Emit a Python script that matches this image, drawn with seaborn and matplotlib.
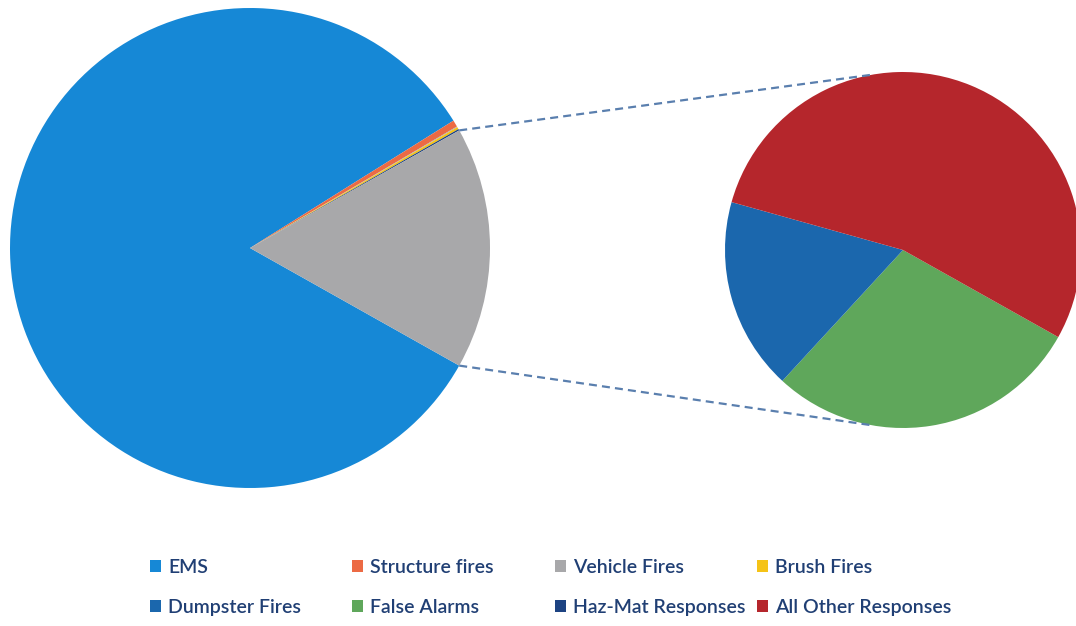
import numpy as np
import matplotlib
matplotlib.use("Agg")
import matplotlib.pyplot as plt
import seaborn as sns
from matplotlib.patches import Patch

# --- 1. Data (share of all responses, %) ---
main_labels = ["EMS", "Structure fires", "Vehicle Fires", "Brush Fires", "Haz-Mat Responses"]
main_values = [82.95, 0.45, 0.05, 0.15, 0.10]

# slices pulled out into the second pie
sub_labels = ["False Alarms", "Dumpster Fires", "All Other Responses"]
sub_values = [4.68, 2.85, 8.77]

legend_labels = ["EMS", "Structure fires", "Vehicle Fires", "Brush Fires",
                 "Dumpster Fires", "False Alarms", "Haz-Mat Responses", "All Other Responses"]

colors = {
    "EMS": "#1688d6",
    "Structure fires": "#ec6a44",
    "Vehicle Fires": "#a8a8aa",
    "Brush Fires": "#f5c317",
    "Dumpster Fires": "#1b67ad",
    "False Alarms": "#5fa75b",
    "Haz-Mat Responses": "#1d4382",
    "All Other Responses": "#b5262c",
}
other_color = "#a8a8aa"

# --- 2. Style ---
sns.set_theme(style="white")
plt.rcParams['font.family'] = ['Lato', 'DejaVu Sans']

W, H = 1076, 626
fig = plt.figure(figsize=(W / 100, H / 100), dpi=100)
ax = fig.add_axes([0, 0, 1, 1])

# --- 3. Pies ---
other = sum(sub_values)
vals = main_values + [other]
total = sum(vals)
start = -180 * other / total  # "other" wedge centred on the right
main_center, main_r = (250, H - 248), 240
sub_center, sub_r = (903, H - 250), 178

ax.pie(vals, colors=[colors[l] for l in main_labels] + [other_color],
       center=main_center, radius=main_r, startangle=start, counterclock=False,
       frame=True, wedgeprops=dict(linewidth=0))
ax.pie(sub_values, colors=[colors[l] for l in sub_labels],
       center=sub_center, radius=sub_r, startangle=-29.3, counterclock=False,
       frame=True, wedgeprops=dict(linewidth=0))

# dashed connectors between the "other" wedge and the second pie
half = np.deg2rad(-start)
for sgn, ang in [(1, 100), (-1, 260)]:
    x1 = main_center[0] + main_r * np.cos(sgn * half)
    y1 = main_center[1] + main_r * np.sin(sgn * half)
    x2 = sub_center[0] + sub_r * np.cos(np.deg2rad(ang))
    y2 = sub_center[1] + sub_r * np.sin(np.deg2rad(ang))
    ax.plot([x1, x2], [y1, y2], color="#5a7fae", lw=1.6, ls=(0, (3.6, 2.3)))

ax.set_xlim(0, W)
ax.set_ylim(0, H)
ax.set_aspect('equal')
ax.axis('off')

# --- 4. Legend: 4 columns x 2 rows ---
col_x = [150, 352, 555, 757]
for i, x in enumerate(col_x):
    labs = [legend_labels[i], legend_labels[i + 4]]
    handles = [Patch(facecolor=colors[l], edgecolor='none') for l in labs]
    fig.legend(handles, labs, loc="center left", bbox_to_anchor=(x / W, 1 - 587.5 / H),
               frameon=False, prop=dict(size=14, weight='semibold'), labelcolor="#203f74",
               handlelength=0.55, handleheight=0.55, handletextpad=0.4,
               labelspacing=1.19, borderpad=0, borderaxespad=0)

fig.savefig("out.png", dpi=100)
